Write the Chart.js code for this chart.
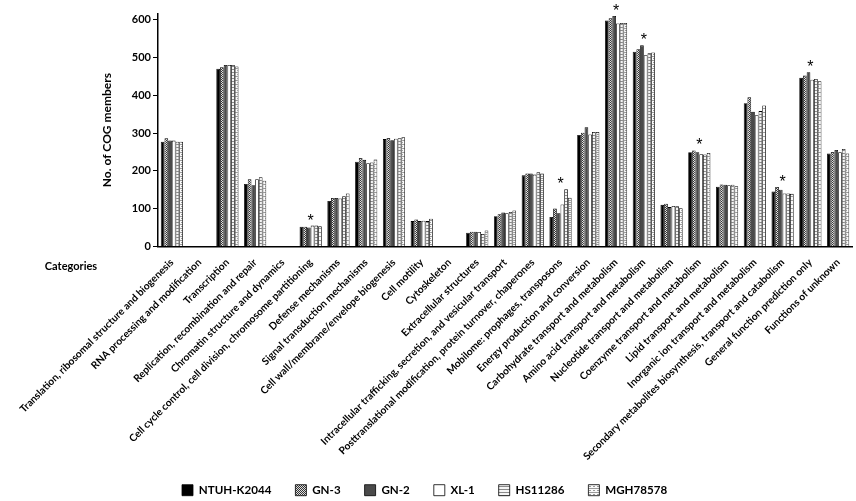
<!DOCTYPE html>
<html>
<head>
<meta charset="utf-8">
<script src="https://cdn.jsdelivr.net/npm/chart.js@4.4.1/dist/chart.umd.min.js"></script>
<style>
  html, body { margin: 0; padding: 0; background: #fff; }
  #wrap { width: 856px; height: 501px; }
</style>
</head>
<body>
<div id="wrap"><canvas id="chart"></canvas></div>
<script>
// COG categories
const categories = [
  'Translation, ribosomal structure and biogenesis',
  'RNA processing and modification',
  'Transcription',
  'Replication, recombination and repair',
  'Chromatin structure and dynamics',
  'Cell cycle control, cell division, chromosome partitioning',
  'Defense mechanisms',
  'Signal transduction mechanisms',
  'Cell wall/membrane/envelope biogenesis',
  'Cell motility',
  'Cytoskeleton',
  'Extracellular structures',
  'Intracellular trafficking, secretion, and vesicular transport',
  'Posttranslational modification, protein turnover, chaperones',
  'Mobilome: prophages, transposons',
  'Energy production and conversion',
  'Carbohydrate transport and metabolism',
  'Amino acid transport and metabolism',
  'Nucleotide transport and metabolism',
  'Coenzyme transport and metabolism',
  'Lipid transport and metabolism',
  'Inorganic ion transport and metabolism',
  'Secondary metabolites biosynthesis, transport and catabolism',
  'General function prediction only',
  'Functions of unknown'
];

// values per strain
const ntuhK2044 = [277, 0, 470, 165, 0, 52, 120, 224, 284, 67, 0, 36, 80, 188, 78, 295, 598, 515, 110, 249, 158, 379, 145, 446, 246];
const gn3       = [286, 0, 474, 178, 0, 52, 128, 234, 287, 71, 0, 39, 85, 193, 100, 301, 604, 522, 113, 254, 164, 395, 157, 452, 250];
const gn2       = [280, 0, 480, 162, 0, 50, 128, 229, 281, 67, 0, 39, 90, 193, 88, 315, 610, 532, 104, 249, 163, 356, 150, 461, 255];
const xl1       = [280, 0, 480, 178, 0, 55, 127, 220, 285, 68, 0, 38, 88, 190, 111, 296, 590, 506, 107, 244, 162, 347, 140, 441, 249];
const hs11286   = [277, 0, 480, 183, 0, 55, 133, 222, 286, 67, 0, 33, 91, 196, 151, 303, 591, 511, 106, 243, 163, 358, 140, 443, 258];
const mgh78578  = [277, 0, 476, 174, 0, 53, 140, 230, 289, 73, 0, 42, 95, 193, 129, 303, 591, 513, 101, 247, 159, 373, 139, 437, 246];

const strainNames = ['NTUH-K2044', 'GN-3', 'GN-2', 'XL-1', 'HS11286', 'MGH78578'];
const strainValues = [ntuhK2044, gn3, gn2, xl1, hs11286, mgh78578];

// categories marked with an asterisk
const starred = [5, 14, 16, 17, 19, 22, 23];

const yTicks = [0, 100, 200, 300, 400, 500, 600];

// small bitmap fills to mimic the printed hatches
function makePattern(kind) {
  const c = document.createElement('canvas');
  const g = c.getContext('2d');
  if (kind === 'checker') {
    c.width = 2; c.height = 2;
    g.fillStyle = '#e0e0e0'; g.fillRect(0, 0, 2, 2);
    g.fillStyle = '#333'; g.fillRect(0, 0, 1, 1); g.fillRect(1, 1, 1, 1);
  } else if (kind === 'ladder') {
    c.width = 4; c.height = 3;
    g.fillStyle = '#f4f4f4'; g.fillRect(0, 0, 4, 3);
    g.fillStyle = '#8a8a8a'; g.fillRect(0, 0, 4, 1);
  } else {
    c.width = 4; c.height = 4;
    g.fillStyle = '#fafafa'; g.fillRect(0, 0, 4, 4);
    g.fillStyle = '#9a9a9a'; g.fillRect(0, 0, 4, 1); g.fillRect(1, 2, 2, 1);
  }
  return g.createPattern(c, 'repeat');
}

const fills = ['#000', makePattern('checker'), '#4a4a4a', '#fff', makePattern('ladder'), makePattern('dots')];

const starPlugin = {
  id: 'stars',
  afterDatasetsDraw(chart) {
    const { ctx, scales: { x, y }, chartArea } = chart;
    ctx.save();
    ctx.fillStyle = '#000';
    ctx.textAlign = 'center';
    ctx.font = '16px "Liberation Sans"';
    const m = ctx.measureText('*');
    const mid = (m.actualBoundingBoxAscent - m.actualBoundingBoxDescent) / 2;
    starred.forEach(i => {
      const top = Math.max(...strainValues.map(s => s[i]));
      const cy = y.getPixelForValue(top) - 9;
      ctx.fillText('*', x.getPixelForValue(i), cy + mid);
    });
    ctx.font = 'bold 11px Lato';
    ctx.textBaseline = 'middle';
    ctx.fillText('Categories', chartArea.left - 87, chartArea.bottom + 20);
    ctx.restore();
  }
};

new Chart(document.getElementById('chart'), {
  type: 'bar',
  data: {
    labels: categories,
    datasets: strainNames.map((name, i) => ({
      label: name,
      data: strainValues[i],
      backgroundColor: fills[i],
      borderColor: '#000',
      borderWidth: 0.8,
      categoryPercentage: 0.8,
      barPercentage: 1.0
    }))
  },
  options: {
    responsive: true,
    maintainAspectRatio: false,
    animation: false,
    layout: { padding: { top: 14, right: 4, left: 96, bottom: -5 } },
    plugins: {
      legend: {
        position: 'bottom',
        fullSize: false,
        align: 'start',
        labels: {
          color: '#000',
          font: { family: 'Lato', weight: 'bold', size: 11.6 },
          boxWidth: 11,
          boxHeight: 11,
          padding: 24
        }
      },
      tooltip: { enabled: false }
    },
    scales: {
      x: {
        grid: { display: false },
        border: { color: '#000', width: 1.5 },
        ticks: {
          autoSkip: false,
          minRotation: 45,
          maxRotation: 45,
          padding: 2,
          color: '#000',
          font: { family: 'Lato', weight: 'bold', size: 10.2 }
        },
        afterFit: s => { s.height = 214; }
      },
      y: {
        min: 0,
        max: 615,
        afterBuildTicks: s => { s.ticks = yTicks.map(v => ({ value: v })); },
        grid: { drawOnChartArea: false, tickLength: 5, color: '#000' },
        border: { color: '#000', width: 1.5 },
        ticks: {
          padding: 2,
          color: '#000',
          font: { family: 'Lato', weight: 'bold', size: 11 }
        },
        title: {
          display: true,
          text: 'No. of COG members',
          color: '#000',
          padding: 4,
          font: { family: 'Lato', weight: 'bold', size: 12 }
        },
        afterFit: s => { s.width = 62; }
      }
    }
  },
  plugins: [starPlugin]
});
</script>
</body>
</html>
